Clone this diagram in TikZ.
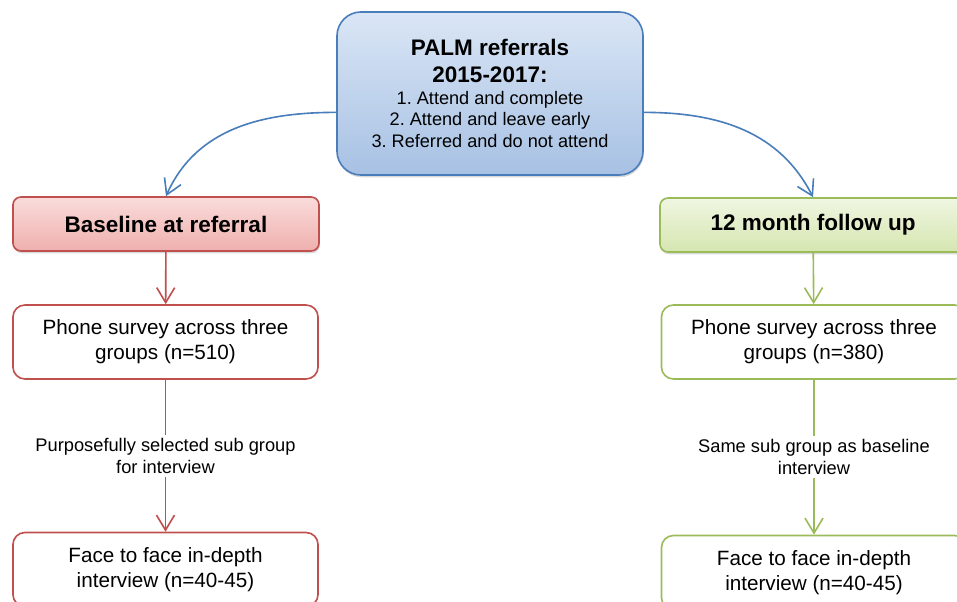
\documentclass[tikz,border=0pt]{standalone}
\usepackage{fontspec}
\setmainfont{Liberation Sans}
\usetikzlibrary{positioning, arrows.meta, shadows}

\definecolor{blueline}{HTML}{4A7EBB}
\definecolor{bluetop}{HTML}{DAE6F5}
\definecolor{bluebot}{HTML}{A7C1E4}
\definecolor{redline}{HTML}{C0504D}
\definecolor{redtop}{HTML}{F9DCDB}
\definecolor{redbot}{HTML}{EFB0AE}
\definecolor{greenline}{HTML}{9BBB59}
\definecolor{greentop}{HTML}{F0F6E2}
\definecolor{greenbot}{HTML}{D5E6B0}

\newcommand{\headfont}{\fontsize{16}{19.2}\selectfont\bfseries}
\frenchspacing

\begin{document}
\begin{tikzpicture}[x=0.025cm, y=0.025cm, line width=1.15pt,
  shadowed/.style = {drop shadow={shadow xshift=0.6pt, shadow yshift=-1.6pt, opacity=0.3}},
  head/.style = {draw, shadowed, rounded corners=0.2cm, minimum width=7.65cm, minimum height=1.35cm, font=\headfont},
  plain/.style = {draw, fill=white, rounded corners=0.3cm, minimum width=7.625cm, minimum height=1.85cm, align=center, font=\fontsize{14.7}{17.6}\selectfont},
  note/.style = {align=center, inner sep=2pt, font=\fontsize{13}{15.6}\selectfont},
  arr/.style = {-{Straight Barb[length=3.75mm, width=4.5mm]}}]
\useasboundingbox (0,0) rectangle (957,-602);
\clip (0,0) rectangle (957,-602);

\node[draw=blueline, top color=bluetop, bottom color=bluebot, shadowed, rounded corners=0.6cm,
  minimum width=7.65cm, minimum height=4.075cm, align=center, font=\fontsize{12.9}{15.5}\selectfont\frenchspacing]
  (palm) at (490,-93.5) {{\headfont PALM referrals}\\[3.7pt]{\headfont 2015-2017:}\\1.\ Attend and complete\\2.\ Attend and leave early\\3.\ Referred and do not attend};

% baseline side
\node[head, draw=redline, top color=redtop, bottom color=redbot] (base) at (166,-224) {Baseline at referral};
\node[plain, draw=redline] (phoneL) at (165.5,-342) {Phone survey across three\\groups (n=510)};
\node[note] (selL) at (165.5,-456) {Purposefully selected sub group\\for interview};
\node[plain, draw=redline] (faceL) at (165.5,-569.5) {Face to face in-depth\\interview (n=40-45)};

% follow up side
\node[head, draw=greenline, top color=greentop, bottom color=greenbot] (fup) at (813,-225) {12 month follow up};
\node[plain, draw=greenline] (phoneR) at (814,-342) {Phone survey across three\\groups (n=380)};
\node[note] (selR) at (814,-457) {Same sub group as baseline\\interview};
\node[plain, draw=greenline] (faceR) at (814,-572.5) {Face to face in-depth\\interview (n=40-45)};

\draw[arr, blueline] (palm.187) to[out=180, in=66] (base.north);
\draw[arr, blueline] (palm.-7) to[out=0, in=117] (fup.north);

\draw[arr, redline] (base) -- (phoneL);
\draw[redline] (phoneL) -- (selL);
\draw[arr, redline] (selL) -- (faceL);

\draw[arr, greenline] (fup) -- (phoneR);
\draw[greenline] (phoneR) -- (selR);
\draw[arr, greenline] (selR) -- (faceR);
\end{tikzpicture}
\end{document}
